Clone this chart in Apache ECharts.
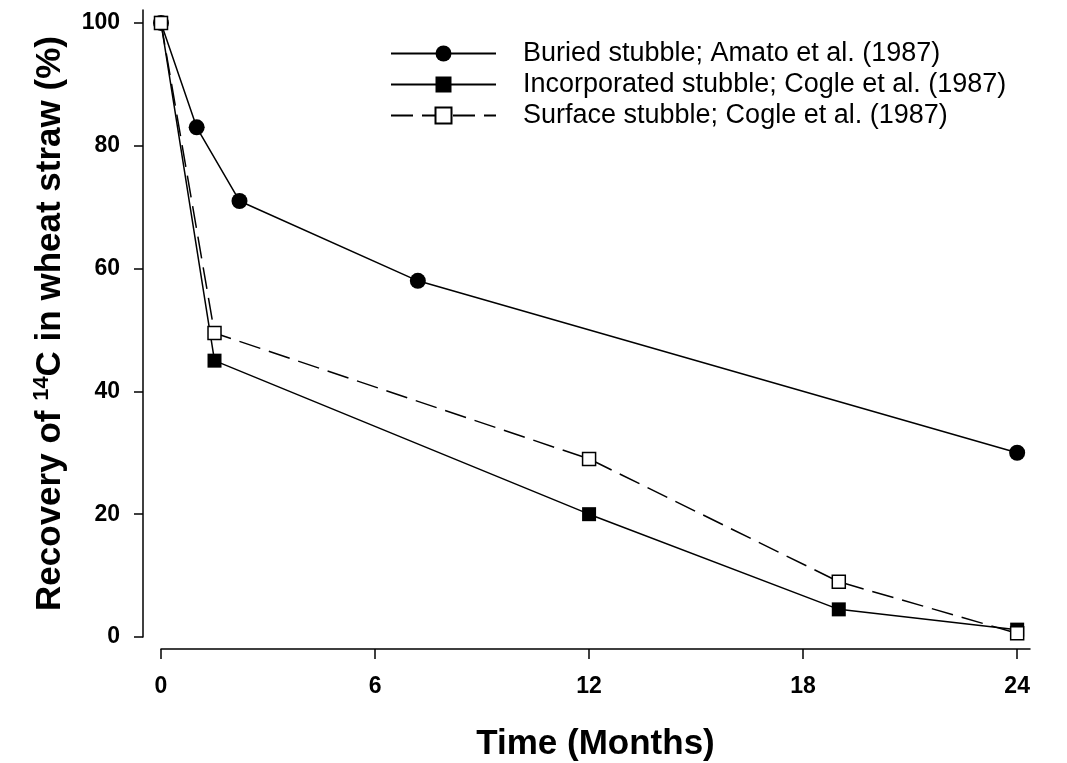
<!DOCTYPE html>
<html>
<head>
<meta charset="utf-8">
<script src="https://cdn.jsdelivr.net/npm/echarts@6/dist/echarts.min.js"></script>
<style>
html,body{margin:0;padding:0;background:#fff;}
#chart{width:1067px;height:763px;}
</style>
</head>
<body>
<div id="chart"></div>
<script>
// ---- data ----
const monthsBuried = [0, 1, 2.2, 7.2, 24];
const recoveryBuried = [100, 83, 71, 58, 30];
const monthsIncorporated = [0, 1.5, 12, 19, 24];
const recoveryIncorporated = [100, 45, 20, 4.5, 1.2];
const monthsSurface = [0, 1.5, 12, 19, 24];
const recoverySurface = [100, 49.5, 29, 9, 0.6];
const xTicks = [0, 6, 12, 18, 24];
const yTicks = [0, 20, 40, 60, 80, 100];
const seriesNames = [
  'Buried stubble; Amato et al. (1987)',
  'Incorporated stubble; Cogle et al. (1987)',
  'Surface stubble; Cogle et al. (1987)'
];

function pairs(xs, ys) { return xs.map((x, i) => [x, ys[i]]); }

const FONT = '"Liberation Sans", Arial, Helvetica, sans-serif';
const chart = echarts.init(document.getElementById('chart'), null, {renderer: 'canvas'});

const option = {
  backgroundColor: '#ffffff',
  animation: false,
  textStyle: {fontFamily: FONT, color: '#000'},
  grid: {left: 161, right: 37, top: 10, bottom: 126, containLabel: false, outerBoundsMode: 'none'},
  legend: {
    orient: 'vertical',
    left: 390,
    top: 40,
    padding: 0,
    itemWidth: 105,
    itemHeight: 20,
    itemGap: 4,
    data: seriesNames,
    textStyle: {fontFamily: FONT, fontSize: 27, color: '#000', lineHeight: 27, padding: [0, 0, 0, 22]},
    selectedMode: false
  },
  xAxis: {
    type: 'value',
    min: 0,
    max: 24.36,
    offset: 12,
    name: 'Time (Months)',
    nameLocation: 'middle',
    nameGap: 78,
    nameTextStyle: {fontFamily: FONT, fontSize: 35, fontWeight: 'bold', color: '#000'},
    axisLine: {show: true, onZero: false, lineStyle: {color: '#000', width: 1.5}},
    axisTick: {show: true, inside: false, length: 10, customValues: xTicks, lineStyle: {color: '#000', width: 1.5}},
    axisLabel: {customValues: xTicks, fontFamily: FONT, fontSize: 23, fontWeight: 'bold', color: '#000', margin: 26},
    splitLine: {show: false}
  },
  yAxis: {
    type: 'value',
    min: 0,
    max: 102.1,
    offset: 18,
    name: 'Recovery of {sup|14}C in wheat straw (%)',
    nameLocation: 'middle',
    nameGap: 70,
    nameRotate: 90,
    nameTextStyle: {
      fontFamily: FONT, fontSize: 35, fontWeight: 'bold', color: '#000', lineHeight: 40,
      rich: {sup: {fontFamily: FONT, fontSize: 22, fontWeight: 'bold', color: '#000', verticalAlign: 'top', lineHeight: 40}}
    },
    axisLine: {show: true, onZero: false, lineStyle: {color: '#000', width: 1.5}},
    axisTick: {show: true, inside: false, length: 9, customValues: yTicks, lineStyle: {color: '#000', width: 1.5}},
    axisLabel: {customValues: yTicks, fontFamily: FONT, fontSize: 23, fontWeight: 'bold', color: '#000', margin: 23},
    splitLine: {show: false}
  },
  series: [
    {
      name: seriesNames[0], type: 'line', data: pairs(monthsBuried, recoveryBuried),
      symbol: 'circle', symbolSize: 16, clip: false,
      lineStyle: {color: '#000', width: 1.5},
      itemStyle: {color: '#000', borderColor: '#000', borderWidth: 0}
    },
    {
      name: seriesNames[1], type: 'line', data: pairs(monthsIncorporated, recoveryIncorporated),
      symbol: 'rect', symbolSize: 14, clip: false,
      lineStyle: {color: '#000', width: 1.5},
      itemStyle: {color: '#000', borderColor: '#000', borderWidth: 0}
    },
    {
      name: seriesNames[2], type: 'line', data: pairs(monthsSurface, recoverySurface),
      symbol: 'rect', symbolSize: 13, clip: false,
      lineStyle: {color: '#000', width: 1.5, type: [22, 9]},
      itemStyle: {color: '#fff', borderColor: '#000', borderWidth: 1.5}
    }
  ]
};
chart.setOption(option);
</script>
</body>
</html>
